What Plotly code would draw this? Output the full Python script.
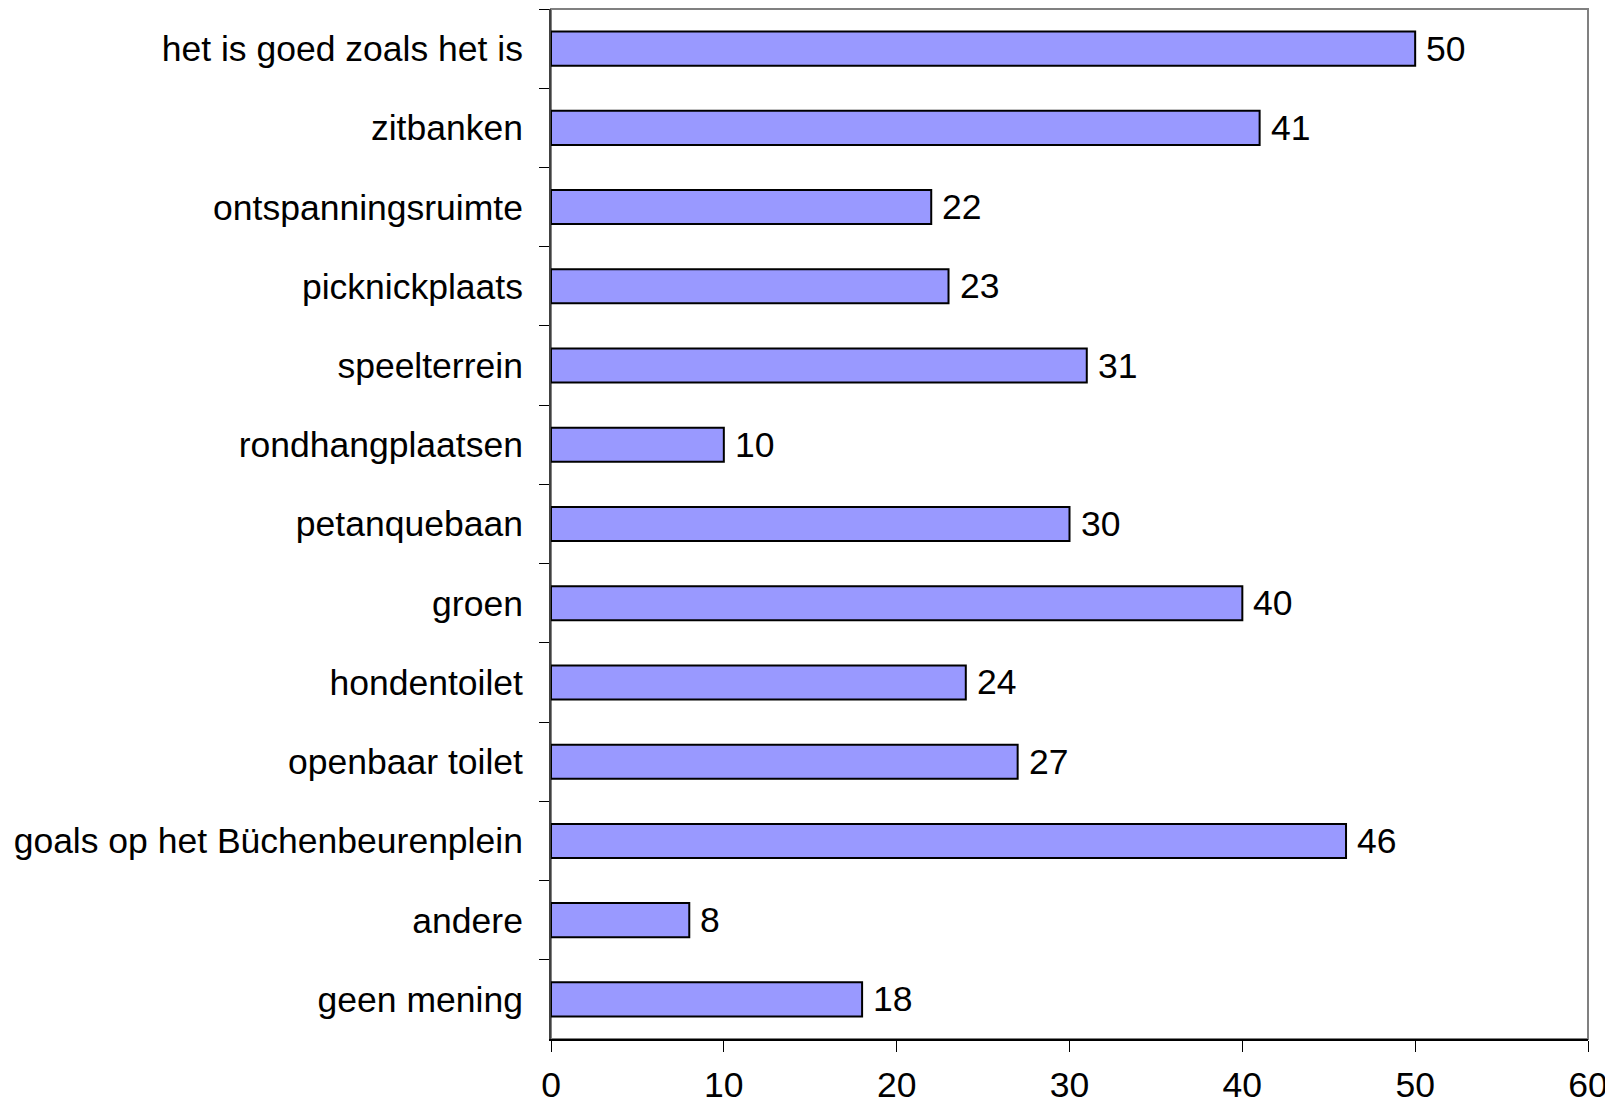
import plotly.graph_objects as go

categories = [
    "het is goed zoals het is",
    "zitbanken",
    "ontspanningsruimte",
    "picknickplaats",
    "speelterrein",
    "rondhangplaatsen",
    "petanquebaan",
    "groen",
    "hondentoilet",
    "openbaar toilet",
    "goals op het Büchenbeurenplein",
    "andere",
    "geen mening",
]
counts = [50, 41, 22, 23, 31, 10, 30, 40, 24, 27, 46, 8, 18]
x_ticks = [0, 10, 20, 30, 40, 50, 60]

_FONT = dict(family="Liberation Sans, Arial, sans-serif", size=35.5, color="#000000")

fig = go.Figure()
fig.add_trace(
    go.Bar(
        x=counts,
        y=categories,
        orientation="h",
        width=0.43,
        marker=dict(color="#9999FF", line=dict(color="#000000", width=2)),
        hoverinfo="x+y",
        showlegend=False,
    )
)

# value labels just right of each bar end
for cat, val in zip(categories, counts):
    fig.add_annotation(
        x=val, y=cat, text=str(val),
        xanchor="left", yanchor="middle",
        xshift=9, showarrow=False, font=_FONT,
    )

# grey frame on top / right like the original
fig.add_shape(
    type="rect", xref="paper", yref="paper",
    x0=0, x1=1, y0=0, y1=1,
    line=dict(color="#808080", width=2), layer="below",
)

# page body adds an 8px offset, so the figure is sized/margined to compensate
fig.update_layout(
    width=1605,
    height=1099,
    plot_bgcolor="white",
    paper_bgcolor="white",
    font=_FONT,
    margin=dict(l=543, r=25, t=1, b=68, autoexpand=False),
    bargap=0.57,
)

fig.update_xaxes(
    range=[0, 60],
    tickvals=x_ticks,
    ticks="outside",
    ticklen=11,
    tickwidth=1,
    tickcolor="#000000",
    showline=True,
    linecolor="#000000",
    linewidth=2,
    showgrid=False,
    zeroline=False,
    ticklabelstandoff=2,
    tickfont=_FONT,
)
fig.update_yaxes(
    autorange="reversed",
    ticks="outside",
    tickson="boundaries",
    ticklen=10,
    tickwidth=1,
    tickcolor="#000000",
    showline=True,
    linecolor="#404040",
    linewidth=2,
    showgrid=False,
    ticklabelstandoff=19,
    tickfont=_FONT,
)

fig.write_html("out.html")
